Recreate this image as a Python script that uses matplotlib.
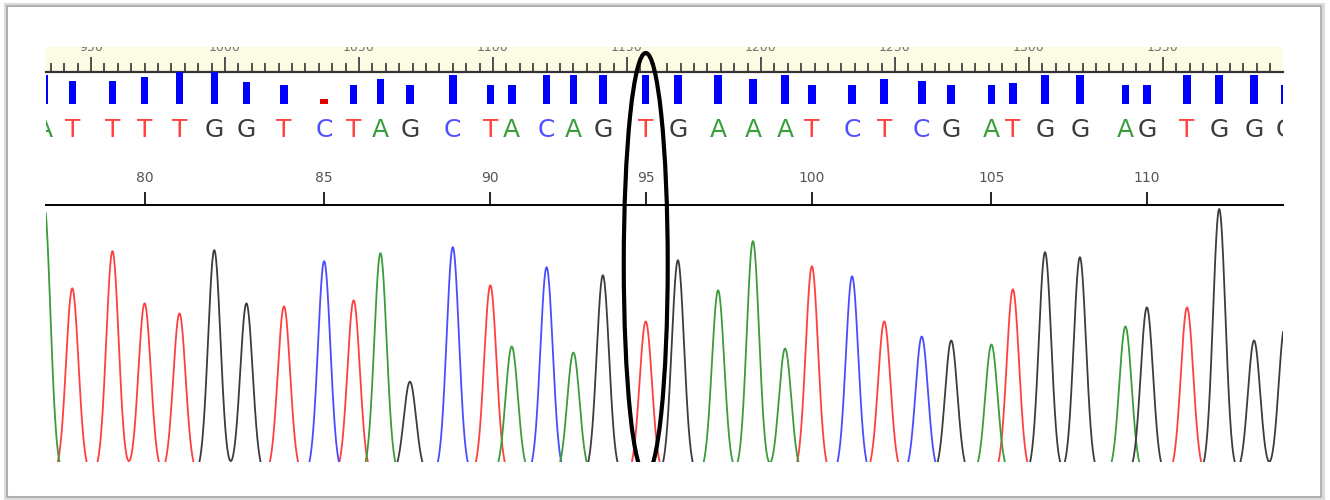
import numpy as np
import matplotlib
matplotlib.use("Agg")
import matplotlib.pyplot as plt
from matplotlib.patches import Ellipse, Rectangle
from matplotlib.transforms import blended_transform_factory, Bbox, TransformedBbox

# base calls, numbered from 77
first_base = 77
bases = list("ATTTTGGTCTAGCTACAGTGAAATCTCGATGGAGTGGG")
# scan position of each called peak
peak_scans = [932.5, 943, 958, 970, 983, 996, 1008, 1022, 1037, 1048, 1058, 1069,
              1085, 1099, 1107, 1120, 1130, 1141, 1157, 1169, 1184, 1197, 1209,
              1219, 1234, 1246, 1260, 1271, 1286, 1294, 1306, 1319, 1336, 1344,
              1359, 1371, 1384, 1395.5]
peak_heights = [270, 185, 222, 170, 160, 223, 170, 167, 212, 173, 220, 92,
                226, 188, 127, 206, 121, 198, 152, 213, 183, 232, 125,
                207, 197, 152, 137, 133, 129, 184, 221, 216, 147, 166,
                166, 264, 133, 148]
quality = [29, 23, 23, 27, 32, 32, 22, 19, 5, 19, 25, 19, 29, 19, 19, 29, 29, 29,
           29, 29, 29, 25, 29, 19, 19, 25, 23, 19, 19, 21, 29, 29, 19, 19, 29,
           29, 29, 19]
ruler_labels = [950, 1000, 1050, 1100, 1150, 1200, 1250, 1300, 1350]
base_ticks = [80, 85, 90, 95, 100, 105, 110]
marked_base = 95

trace_col = {"A": "#3a9c3a", "C": "#4c4cff", "G": "#3c3c3c", "T": "#ff4040"}
text_col = {"A": "#3a9e3a", "C": "#5050ff", "G": "#3c3c3c", "T": "#ff4242"}

W, H = 1330, 500
fig = plt.figure(figsize=(W / 100, H / 100), dpi=100)
fig.patch.set_facecolor("white")

left = 46 / W
width = 1237 / W
xlim = (933.2, 1394.8)

# ruler with scan numbers (labels cut off by the top of the ruler)
ax_r = fig.add_axes([left, 1 - 72 / H, width, 25 / H])
ax_r.set_facecolor("#fcfce4")
ax_r.set_xlim(xlim)
ax_r.set_ylim(0, 1)
for s in ["top", "left", "right"]:
    ax_r.spines[s].set_visible(False)
ax_r.spines["bottom"].set_color("#333333")
ax_r.spines["bottom"].set_linewidth(1.6)
ax_r.set_xticks(ruler_labels)
ax_r.set_xticks(np.arange(935, 1395, 5), minor=True)
ax_r.tick_params(axis="x", which="major", direction="in", length=10.8, width=1.2,
                 color="#333333", labelbottom=False)
ax_r.tick_params(axis="x", which="minor", direction="in", length=6.5, width=1.2,
                 color="#333333")
ax_r.set_yticks([])
for s in ruler_labels:
    ax_r.text(s, 0.83, str(s), ha="center", va="baseline", fontsize=9,
              color="#707070", clip_on=True)

# quality bars and base letters
ax_q = fig.add_axes([left, 1 - 160 / H, width, 88 / H])
ax_q.set_xlim(xlim)
ax_q.set_ylim(-56, 32)
ax_q.axis("off")
bar_colors = ["#e00000" if q < 10 else "#0000ff" for q in quality]
ax_q.bar(peak_scans, quality, width=2.8, color=bar_colors)
for b, s in zip(bases, peak_scans):
    ax_q.text(s, -26, b, ha="center", va="center", fontsize=18,
              color=text_col[b], clip_on=True)

# traces
ax_t = fig.add_axes([left, 1 - 462 / H, width, 257 / H])
ax_t.set_xlim(xlim)
ax_t.set_ylim(12, 268)
x = np.linspace(920, 1410, 5000)
sigma = 2.3
for ch in "TCAG":
    y = np.zeros_like(x)
    for b, s, h in zip(bases, peak_scans, peak_heights):
        if b == ch:
            y += h * np.exp(-0.5 * ((x - s) / sigma) ** 2)
    ax_t.plot(x, y, color=trace_col[ch], lw=1.3)
for s in ["bottom", "left", "right"]:
    ax_t.spines[s].set_visible(False)
ax_t.spines["top"].set_linewidth(1.4)
ax_t.set_yticks([])
ax_t.set_xticks([peak_scans[n - first_base] for n in base_ticks])
ax_t.set_xticklabels([str(n) for n in base_ticks])
ax_t.xaxis.tick_top()
ax_t.tick_params(axis="x", direction="out", length=9.5, width=1.2, pad=5,
                 labelsize=10, labelcolor="#555555")

# ellipse round the marked base
tr = blended_transform_factory(ax_t.transData, fig.transFigure)
ell = Ellipse((peak_scans[marked_base - first_base], 1 - 264 / H), 16.4, 422 / H,
              transform=tr, fill=False, ec="black", lw=3)
ell.set_clip_box(TransformedBbox(Bbox.from_extents(0, 38 / H, 1, 1), fig.transFigure))
fig.add_artist(ell)

# frame
fig.add_artist(Rectangle((6 / W, 2 / H), 1317 / W, 493 / H, transform=fig.transFigure,
                         fill=False, ec="#dcdcdc", lw=3))
fig.add_artist(Rectangle((7 / W, 3 / H), 1314 / W, 491 / H, transform=fig.transFigure,
                         fill=False, ec="#a8a8a8", lw=1.2))

fig.savefig("out.png", dpi=100)
